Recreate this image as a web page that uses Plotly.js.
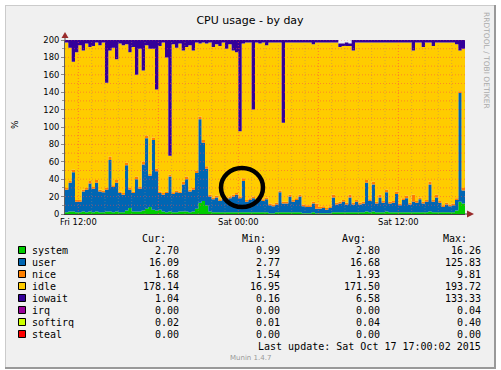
<!DOCTYPE html>
<html><head><meta charset="utf-8">
<script src="https://cdn.plot.ly/plotly-3.0.1.min.js"></script>
<style>html,body{margin:0;padding:0;background:#fff;}#chart{width:501px;height:370px;}</style>
</head><body><div id="chart"></div>
<script>
// 15-minute samples from Fri 16 Oct 2015 11:00 to Sat 17 Oct 2015 17:00
const startTime = Date.UTC(2015, 9, 16, 11, 0, 0);
const stepMs = 15 * 60 * 1000;
const hourMs = 3600000;

const system = [2,3,3,2,2,3,2,3,2,3, 2,2,3,3,2,3,2,2,4,7, 3,3,3,4,6,8,5,4,5,3, 2,3,2,2,3,3,3,2,3,6,
  13,15,10,3,2,2,2,2,2,2, 2,2,2,2,2,2,2,2,2,2, 2,1,1,2,2,2,2,2,2,2, 2,1,1,1,2,1,1,1,1,1,
  2,2,2,2,2,2,2,2,2,2, 3,2,3,2,2,2,3,2,2,2, 2,2,2,2,2,2,2,2,2,3, 2,2,2,2,2,2,2,4,14,12, 2.70];
const user = [26,33,45,12,12,23,26,32,27,33, 24,23,25,59,29,33,22,20,52,21, 21,37,26,53,81,36,80,45,19,19,
  22,40,21,23,21,31,37,24,25,41, 96,67,42,17,15,17,13,15,14,16, 18,20,16,36,12,14,16,13,15,13,
  15,9,8,9,23,10,10,18,12,14, 18,8,7,7,10,5,5,6,4,6, 17,9,10,12,9,17,9,12,9,10,
  33,13,31,10,17,11,22,10,11,21, 8,14,16,9,12,11,15,10,12,31, 12,17,11,6,9,7,8,12,125,15, 16.09];
const nice = [2,2,3,2,2,2,2,3,2,3, 2,2,2,4,2,3,2,2,3,2, 2,3,2,3,3,2,3,3,2,2, 2,2,2,2,2,3,3,2,2,3,
  3,3,3,2,2,2,2,2,2,2, 2,2,2,3,2,2,2,2,2,2, 2,2,2,2,2,2,2,2,2,2, 2,2,2,2,2,6,2,2,2,2,
  3,2,2,2,2,3,2,2,2,2, 3,2,3,2,3,2,3,2,2,3, 2,2,3,2,8,2,2,2,2,3, 2,3,2,2,2,2,2,2,2,3, 1.68];
const idle = [167,153,124,170,178,160,166,154,162,158, 166,170,121,122,158,139,170,170,136,156,
  166,117,159,105,104,144,102,91,167,173, 154,22,170,164,170,151,149,166,158,147,
  84,112,141,175,173,174,176,178,172,175, 166,162,75,155,181,179,100,180,177,180,
  175,185,186,184,170,91,183,175,181,179, 175,186,187,187,181,185,189,188,190,188,
  175,184,178,177,180,171,175,181,184,183, 158,180,160,183,175,182,169,183,182,171,
  185,179,176,184,166,182,178,178,181,160, 177,175,182,187,184,186,185,177,47,160, 178.14];
const iowait = [3,9,25,14,6,12,4,8,7,3, 6,3,49,12,9,22,4,6,5,14, 8,40,10,35,6,10,10,57,7,3,
  20,133,5,9,4,12,8,6,12,3, 4,3,4,3,8,5,7,3,10,5, 12,14,105,4,3,3,80,3,4,3,
  6,3,3,3,3,95,3,3,3,3, 3,3,3,3,5,3,3,3,3,3, 3,3,4,3,4,3,12,3,3,3,
  3,3,3,3,3,3,3,3,3,3, 3,3,3,3,12,3,3,8,3,3, 7,3,3,3,3,3,3,5,12,10, 1.04];

const seriesNames = ['system','user','nice','idle','iowait'];
const seriesValues = [system, user, nice, idle, iowait];
const legendNames = ['system','user','nice','idle','iowait','irq','softirq','steal'];
const legendColors = ['#00CC00','#0066B3','#FF8000','#FFCC00','#330099','#990099','#CCFF00','#FF0000'];
const curVals = ['2.70','16.09','1.68','178.14','1.04','0.00','0.02','0.00'];
const minVals = ['0.99','2.77','1.54','16.95','0.16','0.00','0.01','0.00'];
const avgVals = ['2.80','16.68','1.93','171.50','6.58','0.00','0.04','0.00'];
const maxVals = ['16.26','125.83','9.81','193.72','133.33','0.04','0.40','0.00'];
const statHeaders = ['Cur:','Min:','Avg:','Max:'];
const tickHours = [1, 13, 25];
const tickLabels = ['Fri 12:00','Sat 00:00','Sat 12:00'];
const lastUpdate = 'Last update: Sat Oct 17 17:00:02 2015';

const times = system.map((_, i) => startTime + i * stepMs);

const traces = seriesNames.map((name, k) => ({
  type: 'scatter', mode: 'lines', name: name, x: times, y: seriesValues[k],
  stackgroup: 'one', fill: 'tonexty', fillcolor: legendColors[k],
  line: {width: 0, shape: 'hv', color: legendColors[k]}, hoverinfo: 'skip'
}));

// pixel -> paper helpers (plot area is 65..465 x 40..214)
const PL = 65, PR = 465, PT = 40, PB = 214;
const fx = x => (x - PL) / (PR - PL);
const fy = y => (PB - y) / (PB - PT);

const shapes = [];
// panel
shapes.push({type:'rect', xref:'paper', yref:'paper', x0:fx(5), x1:fx(495), y0:fy(368), y1:fy(5), layer:'below', fillcolor:'#F0F0F0', line:{width:0}});
shapes.push({type:'line', xref:'paper', yref:'paper', x0:fx(5), x1:fx(495), y0:fy(5.5), y1:fy(5.5), layer:'below', line:{color:'#CBCBCB', width:1}});
shapes.push({type:'line', xref:'paper', yref:'paper', x0:fx(5.5), x1:fx(5.5), y0:fy(5), y1:fy(368), layer:'below', line:{color:'#CBCBCB', width:1}});
shapes.push({type:'line', xref:'paper', yref:'paper', x0:fx(495), x1:fx(495), y0:fy(5), y1:fy(369), layer:'below', line:{color:'#999999', width:2}});
shapes.push({type:'line', xref:'paper', yref:'paper', x0:fx(5), x1:fx(496), y0:fy(368), y1:fy(368), layer:'below', line:{color:'#999999', width:2}});
// horizontal grid
for (let v = 10; v <= 200; v += 10) {
  shapes.push({type:'line', xref:'paper', yref:'y', x0:0, x1:1, y0:v, y1:v, layer:'above',
    line:{color:'rgba(255,70,70,0.5)', width:1, dash:'1px,2px'}});
}
// vertical grid
for (let h = 1; h < 30; h++) {
  const t = startTime + h * hourMs;
  const major = ((11 + h) % 6 === 0);
  shapes.push({type:'line', xref:'x', yref:'paper', x0:t, x1:t, y0:0, y1:1, layer:'above',
    line:{color: major ? 'rgba(255,70,70,0.6)' : 'rgba(170,130,110,0.45)', width:1, dash:'1px,2px'}});
}
// axis arrows
const arrowColor = '#992B2B';
shapes.push({type:'line', xref:'paper', yref:'paper', x0:fx(65), x1:fx(65), y0:fy(40), y1:fy(37), layer:'above', line:{color:'#505050', width:1}});
shapes.push({type:'path', xref:'paper', yref:'paper', layer:'above',
  path:`M${fx(61.5)},${fy(38)} L${fx(68.5)},${fy(38)} L${fx(65)},${fy(32)} Z`, fillcolor:arrowColor, line:{width:0}});
shapes.push({type:'line', xref:'paper', yref:'paper', x0:fx(465), x1:fx(468), y0:fy(214), y1:fy(214), layer:'above', line:{color:'#404040', width:1}});
shapes.push({type:'path', xref:'paper', yref:'paper', layer:'above',
  path:`M${fx(467)},${fy(210.5)} L${fx(467)},${fy(217.5)} L${fx(474)},${fy(214)} Z`, fillcolor:arrowColor, line:{width:0}});
// annotation circle
shapes.push({type:'circle', xref:'paper', yref:'paper', x0:fx(221), x1:fx(263), y0:fy(207), y1:fy(168), layer:'above', line:{color:'#000', width:4.5}});

const mono = {family:'DejaVu Sans Mono', size:10, color:'#000'};
const annotations = [];
const rowY = legendNames.map((_, i) => 250 + 12 * i);
const colRight = [180, 281, 381, 482];
const headRight = [167, 267, 367, 468];
const statCols = [curVals, minVals, avgVals, maxVals];
statHeaders.forEach((h, c) => annotations.push({xref:'paper', yref:'paper', x:fx(headRight[c]), y:fy(238), xanchor:'right', yanchor:'middle', text:h, showarrow:false, font:mono, borderpad:0}));
legendNames.forEach((name, i) => {
  shapes.push({type:'rect', xref:'paper', yref:'paper', x0:fx(18.5), x1:fx(25.5), y0:fy(rowY[i]+3.5), y1:fy(rowY[i]-3.5), layer:'above', fillcolor:legendColors[i], line:{color:'#000', width:1}});
  annotations.push({xref:'paper', yref:'paper', x:fx(31), y:fy(rowY[i]), xanchor:'left', yanchor:'middle', text:name, showarrow:false, font:mono, borderpad:0});
  statCols.forEach((col, c) => annotations.push({xref:'paper', yref:'paper', x:fx(colRight[c]), y:fy(rowY[i]), xanchor:'right', yanchor:'middle', text:col[i], showarrow:false, font:mono, borderpad:0}));
});
annotations.push({xref:'paper', yref:'paper', x:fx(482), y:fy(346), xanchor:'right', yanchor:'middle', text:lastUpdate, showarrow:false, font:mono, borderpad:0});
annotations.push({xref:'paper', yref:'paper', x:fx(250), y:fy(358), xanchor:'center', yanchor:'middle', text:'Munin 1.4.7', showarrow:false, font:{family:'DejaVu Sans', size:7, color:'#999'}, borderpad:0});
annotations.push({xref:'paper', yref:'paper', x:fx(487), y:fy(60), xanchor:'center', yanchor:'middle', text:'RRDTOOL / TOBI OETIKER', textangle:90, showarrow:false, font:{family:'DejaVu Sans', size:7.5, color:'#aaa'}, borderpad:0});
annotations.push({xref:'paper', yref:'paper', x:fx(15), y:fy(125), xanchor:'center', yanchor:'middle', text:'%', textangle:-90, showarrow:false, font:{family:'DejaVu Sans', size:9, color:'#000'}, borderpad:0});

const tickFont = {family:'DejaVu Sans', size:8.4, color:'#000'};
const layout = {
  width:501, height:370,
  margin:{l:PL, r:501-PR, t:PT, b:370-PB, pad:0},
  paper_bgcolor:'#ffffff', plot_bgcolor:'#ffffff',
  showlegend:false,
  title:{text:'CPU usage - by day', font:{family:'DejaVu Sans', size:11, color:'#000'}, xref:'container', yref:'container', x:250/501, y:1-20/370, xanchor:'center', yanchor:'middle'},
  xaxis:{type:'date', range:[startTime, startTime + 30*hourMs], showgrid:false, zeroline:false,
    showline:true, linecolor:'#404040', linewidth:1, ticks:'', tickvals:tickHours.map(h => startTime + h*hourMs), ticktext:tickLabels,
    tickfont:tickFont, fixedrange:true},
  yaxis:{range:[0,200], dtick:20, tick0:0, showgrid:false, zeroline:false, showline:true, linecolor:'#606060', linewidth:1,
    ticks:'outside', ticklen:3, tickcolor:'#888', tickfont:tickFont, fixedrange:true,
    minor:{dtick:10, ticks:'outside', ticklen:2, tickcolor:'#999'}},
  shapes:shapes, annotations:annotations
};
Plotly.newPlot('chart', traces, layout, {staticPlot:true, displayModeBar:false});
</script>
</body></html>
